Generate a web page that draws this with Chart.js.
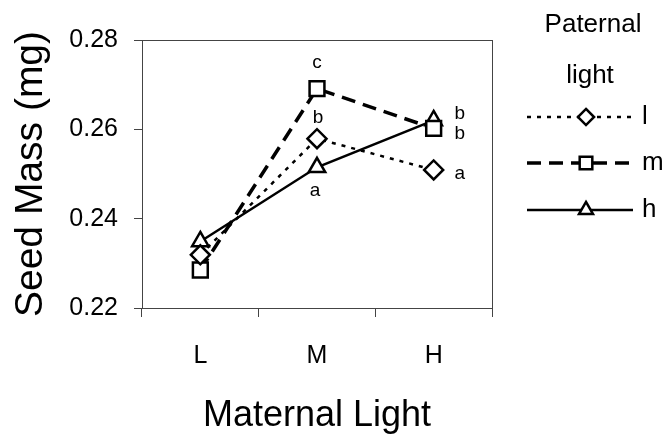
<!DOCTYPE html>
<html>
<head>
<meta charset="utf-8">
<script src="https://cdn.jsdelivr.net/npm/chart.js@4/dist/chart.umd.min.js"></script>
<style>
  html, body { margin: 0; padding: 0; background: #fff; }
  #wrap { width: 669px; height: 440px; }
</style>
</head>
<body>
<div id="wrap"><canvas id="chart" width="669" height="440"></canvas></div>
<script>
// datos
const maternalLight = ['L', 'M', 'H'];
const paternalL = [0.2319, 0.2579, 0.2509];
const paternalM = [0.2285, 0.2691, 0.2602];
const paternalH = [0.2349, 0.2515, 0.2620];
const lettersL = ['', 'b', 'a'];
const lettersM = ['', 'c', 'b'];
const lettersH = ['', 'a', 'b'];
const yTicks = [0.22, 0.24, 0.26, 0.28];

const FONT = "'Liberation Sans', Arial, sans-serif";

// desplazamiento de cada letra respecto a su punto (px)
const letterOffsets = [
  [[0, 0], [1, -21], [26, 4]],
  [[0, 0], [0, -26], [26, 5]],
  [[0, 0], [-2, 23], [26, -7]]
];

const marker = (ctx, style, x, y, r) => {
  ctx.beginPath();
  if (style === 'rectRot') {
    ctx.moveTo(x, y - r); ctx.lineTo(x + r, y); ctx.lineTo(x, y + r); ctx.lineTo(x - r, y);
  } else if (style === 'rect') {
    const s = r * Math.SQRT1_2;
    ctx.rect(x - s, y - s, 2 * s, 2 * s);
  } else {
    ctx.moveTo(x, y - r);
    ctx.lineTo(x + r * Math.sin(Math.PI / 3), y + r * 0.5);
    ctx.lineTo(x - r * Math.sin(Math.PI / 3), y + r * 0.5);
  }
  ctx.closePath();
  ctx.fill();
  ctx.stroke();
};

// caja, letras y leyenda
const extras = {
  id: 'extras',
  afterDraw(chart) {
    const ctx = chart.ctx;
    const a = chart.chartArea;
    ctx.save();
    ctx.strokeStyle = '#444';
    ctx.lineWidth = 1;
    ctx.setLineDash([]);
    ctx.strokeRect(a.left + 0.5, a.top + 0.5, a.right - a.left, a.bottom - a.top);

    // letras de significancia
    ctx.fillStyle = '#000';
    ctx.font = '19px ' + FONT;
    ctx.textAlign = 'center';
    ctx.textBaseline = 'middle';
    chart.data.datasets.forEach((ds, i) => {
      const meta = chart.getDatasetMeta(i);
      ds.letters.forEach((t, j) => {
        if (!t) return;
        const p = meta.data[j];
        const off = letterOffsets[i][j];
        ctx.fillText(t, p.x + off[0], p.y + off[1]);
      });
    });

    // leyenda
    ctx.font = '26px ' + FONT;
    ctx.fillText('Paternal', 593, 25);
    ctx.fillText('light', 590, 76);
    const rows = [117, 163, 210];
    chart.data.datasets.forEach((ds, i) => {
      const y = rows[i];
      ctx.strokeStyle = '#000';
      ctx.lineWidth = ds.borderWidth;
      ctx.setLineDash(ds.borderDash || []);
      ctx.beginPath();
      ctx.moveTo(527, y);
      ctx.lineTo(633, y);
      ctx.stroke();
      ctx.setLineDash([]);
      ctx.lineWidth = 2.5;
      ctx.fillStyle = '#fff';
      marker(ctx, ds.pointStyle, 586, y, ds.pointRadius * 0.85);
      ctx.fillStyle = '#000';
      ctx.textAlign = 'left';
      ctx.fillText(ds.label, 642, y);
      ctx.textAlign = 'center';
    });
    ctx.restore();
  }
};

const ctx = document.getElementById('chart').getContext('2d');
const chart = new Chart(ctx, {
  type: 'line',
  data: {
    labels: maternalLight,
    datasets: [
      {
        label: 'l', data: paternalL, letters: lettersL,
        borderColor: '#000', borderWidth: 2.5, borderDash: [4, 6],
        pointStyle: 'rectRot', pointRadius: 9.5, pointBorderWidth: 2.5,
        pointBackgroundColor: '#fff', pointBorderColor: '#000'
      },
      {
        label: 'm', data: paternalM, letters: lettersM,
        borderColor: '#000', borderWidth: 3.5, borderDash: [14, 8],
        pointStyle: 'rect', pointRadius: 10.5, pointBorderWidth: 2.5,
        pointBackgroundColor: '#fff', pointBorderColor: '#000'
      },
      {
        label: 'h', data: paternalH, letters: lettersH,
        borderColor: '#000', borderWidth: 2.5,
        pointStyle: 'triangle', pointRadius: 9.5, pointBorderWidth: 2.5,
        pointBackgroundColor: '#fff', pointBorderColor: '#000'
      }
    ]
  },
  options: {
    responsive: false,
    animation: false,
    layout: { padding: { top: 40, right: 177, left: 0, bottom: 0 } },
    plugins: { legend: { display: false }, tooltip: { enabled: false } },
    scales: {
      x: {
        offset: true,
        grid: { offset: true, drawOnChartArea: false, drawTicks: true, tickLength: 9, color: '#444' },
        border: { color: '#444' },
        ticks: { color: '#000', font: { family: FONT, size: 25 }, padding: 24 },
        title: { display: true, text: 'Maternal Light', color: '#000', font: { family: FONT, size: 36, lineHeight: 1 }, padding: { top: 0, bottom: 6 } },
        afterFit: (scale) => { scale.height = 132; }
      },
      y: {
        min: 0.22, max: 0.28,
        afterBuildTicks: (scale) => { scale.ticks = yTicks.map(v => ({ value: v })); },
        grid: { drawOnChartArea: false, drawTicks: true, tickLength: 8, color: '#444' },
        border: { color: '#444' },
        ticks: { color: '#000', font: { family: FONT, size: 25 }, padding: 16, callback: (v) => v.toFixed(2) },
        title: { display: true, text: 'Seed Mass (mg)', color: '#000', font: { family: FONT, size: 39, lineHeight: 1 }, padding: { top: 12, bottom: 0 } },
        afterFit: (scale) => { scale.width = 142; }
      }
    }
  },
  plugins: [extras]
});
</script>
</body>
</html>
